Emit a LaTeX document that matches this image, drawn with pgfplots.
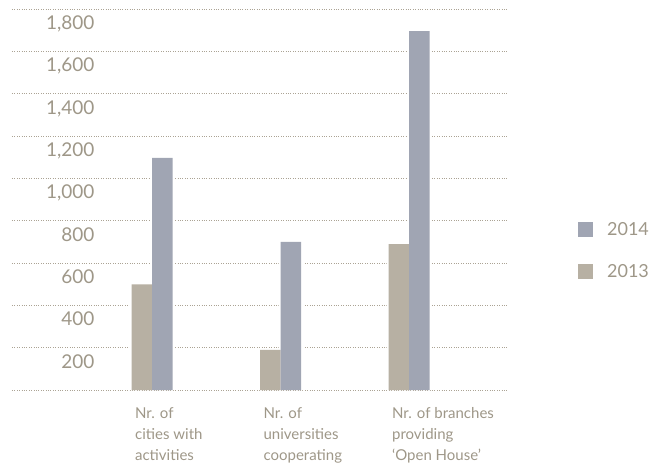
\documentclass[border=0pt]{standalone}
\usepackage{pgfplots}
\pgfplotsset{compat=1.18}
\usepackage{fontspec}
\setmainfont{Lato}
\definecolor{txt}{HTML}{9E9788}
\definecolor{grd}{HTML}{ABA394}
\definecolor{cA}{HTML}{B7B0A3}
\definecolor{cB}{HTML}{A0A5B3}
\begin{document}
\begin{tikzpicture}[x=1pt,y=1pt]
\useasboundingbox (0,0) rectangle (652,469);
\begin{axis}[
  scale only axis,
  at={(12pt,79pt)}, anchor=south west,
  width=496pt, height=380.7pt,
  xmin=-1.09, xmax=2.77,
  ymin=0, ymax=1800,
  axis line style={draw=none},
  ybar, bar width=20.5pt,
  ytick={0,200,...,1800},
  yticklabels={,200,400,600,800,{1,000},{1,200},{1,400},{1,600},{1,800}},
  ymajorgrids,
  grid style={dotted, grd, line width=0.9pt},
  yticklabel style={anchor=north east, xshift=86pt, yshift=-3pt, text=txt, font=\fontsize{19}{19}\selectfont},
  xtick={0,1,2},
  xticklabels={{Nr. of\\cities with\\activities},{Nr. of\\universities\\cooperating},{Nr. of branches\\providing\\‘Open House’}},
  xticklabel style={align=left, anchor=north west, xshift=-20.5pt, yshift=-14pt, text=txt, font=\fontsize{15}{21}\selectfont},
  major tick length=0pt,
  legend style={at={(1.141,0.4466)}, anchor=north west, draw=none, fill=none, inner sep=0pt,
    font=\fontsize{18}{18}\selectfont, text=txt, row sep=24pt,
    /tikz/every odd column/.append style={column sep=12pt}},
  legend cell align=left,
  reverse legend,
  legend image code/.code={\fill[#1] (0pt,-7.5pt) rectangle (15pt,7.5pt);},
]
\addplot[fill=white, draw=none, bar width=24.5pt, bar shift=-10.25pt, forget plot] coordinates {(0,500) (1,190) (2,690)};
\addplot[fill=white, draw=none, bar width=24.5pt, bar shift=10.25pt, forget plot] coordinates {(0,1097) (1,700) (2,1697)};
\addplot[fill=cA, draw=none, bar shift=-10.25pt] coordinates {(0,500) (1,190) (2,690)};
\addlegendentry{2013}
\addplot[fill=cB, draw=none, bar shift=10.25pt] coordinates {(0,1097) (1,700) (2,1697)};
\addlegendentry{2014}
\end{axis}
\end{tikzpicture}
\end{document}
